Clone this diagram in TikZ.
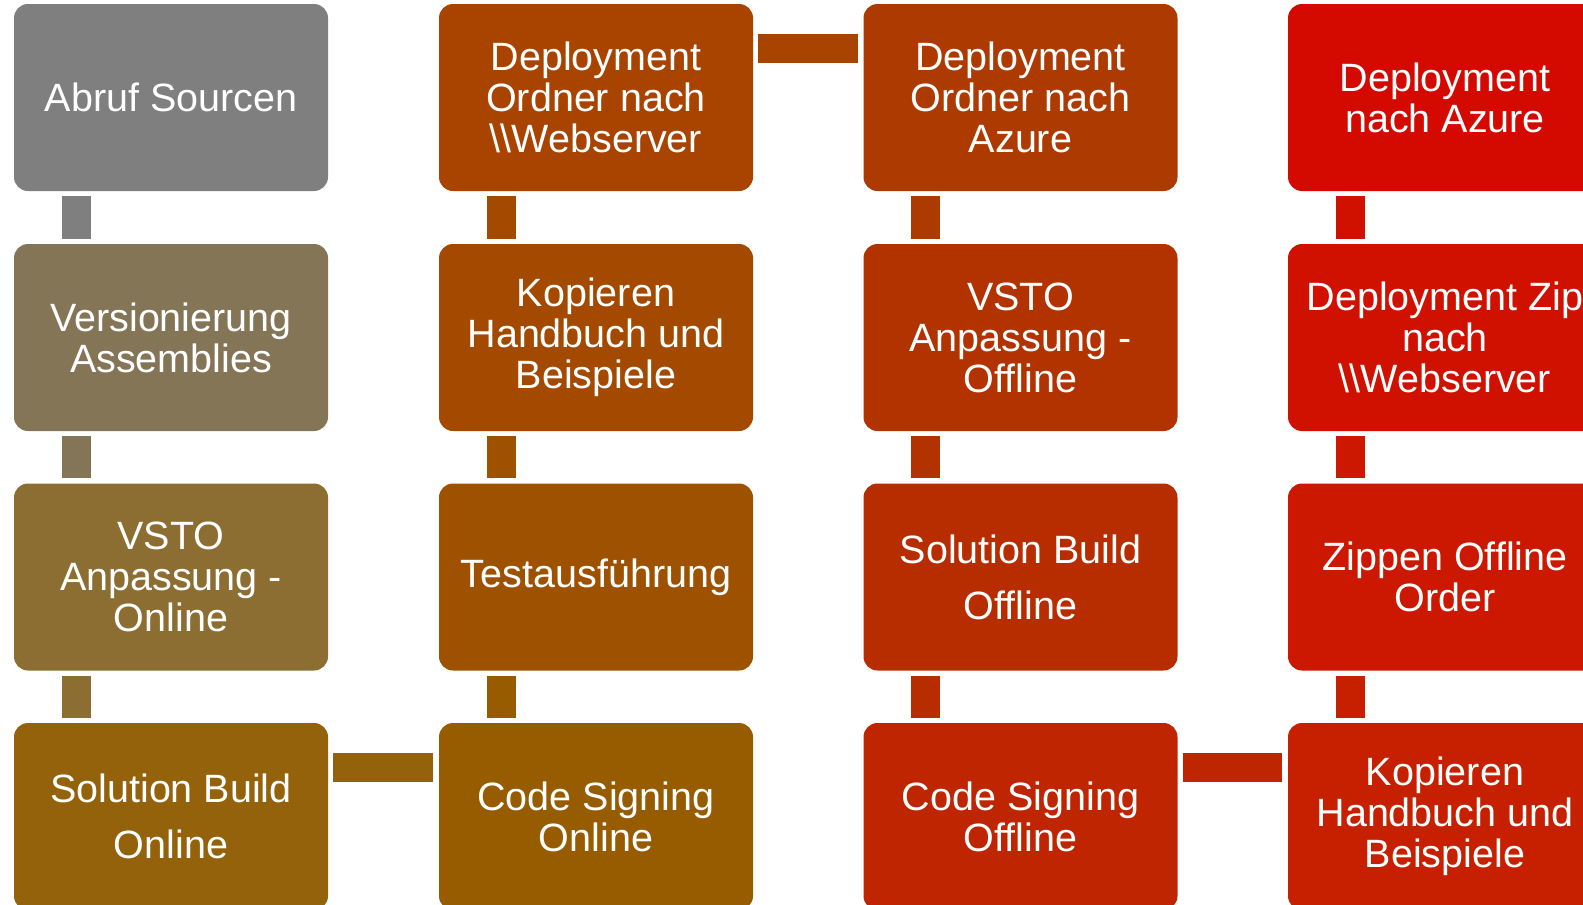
\documentclass[tikz,border=0pt]{standalone}
\usepackage{fontspec}
\setmainfont{Liberation Sans}
\definecolor{cAa}{HTML}{7F7F7F}
\definecolor{cAb}{HTML}{857557}
\definecolor{cAc}{HTML}{8C6E33}
\definecolor{cAd}{HTML}{94620A}
\definecolor{cBa}{HTML}{A84300}
\definecolor{cBb}{HTML}{A34A00}
\definecolor{cBc}{HTML}{9E5200}
\definecolor{cBd}{HTML}{975C00}
\definecolor{cCa}{HTML}{AD3A00}
\definecolor{cCb}{HTML}{B33300}
\definecolor{cCc}{HTML}{B82D00}
\definecolor{cCd}{HTML}{BF2500}
\definecolor{cDa}{HTML}{D40A00}
\definecolor{cDb}{HTML}{D01100}
\definecolor{cDc}{HTML}{CC1800}
\definecolor{cDd}{HTML}{C72000}
\newcommand{\bsl}{\textbackslash\textbackslash}
\begin{document}
\begin{tikzpicture}[x=1pt,y=1pt,
  box/.style={rectangle, rounded corners=14pt, minimum width=314pt, minimum height=187pt,
    inner sep=0pt, text=white, align=center, font=\fontsize{39.5}{41}\selectfont},
  widebox/.style={box, font=\fontsize{39.5}{56}\selectfont},
  vlink/.style={line width=29pt},
  hlink/.style={line width=28.5pt}]
\useasboundingbox (0,0) rectangle (1583,-905);
% column 1
\node[box, fill=cAa] (a1) at (171,-97.5) {Abruf Sourcen};
\node[box, fill=cAb] (a2) at (171,-337.5) {Versionierung\\Assemblies};
\node[box, fill=cAc] (a3) at (171,-577) {VSTO\\Anpassung -\\Online};
\node[widebox, fill=cAd] (a4) at (171,-816.5) {Solution Build\\Online};
% column 2
\node[box, fill=cBa] (b1) at (596,-97.5) {Deployment\\Ordner nach\\\bsl Webserver};
\node[box, fill=cBb] (b2) at (596,-337.5) {Kopieren\\Handbuch und\\Beispiele};
\node[box, fill=cBc] (b3) at (596,-577) {Testausführung};
\node[box, fill=cBd] (b4) at (596,-816.5) {Code Signing\\Online};
% column 3
\node[box, fill=cCa] (c1) at (1020.5,-97.5) {Deployment\\Ordner nach\\Azure};
\node[box, fill=cCb] (c2) at (1020.5,-337.5) {VSTO\\Anpassung -\\Offline};
\node[widebox, fill=cCc] (c3) at (1020.5,-577) {Solution Build\\Offline};
\node[box, fill=cCd] (c4) at (1020.5,-816.5) {Code Signing\\Offline};
% column 4
\node[box, fill=cDa] (d1) at (1445,-97.5) {Deployment\\nach Azure};
\node[box, fill=cDb] (d2) at (1445,-337.5) {Deployment Zip\\nach\\\bsl Webserver};
\node[box, fill=cDc] (d3) at (1445,-577) {Zippen Offline\\Order};
\node[box, fill=cDd] (d4) at (1445,-816.5) {Kopieren\\Handbuch und\\Beispiele};
% vertical links
\draw[vlink, cAa] ([shift={(62.5pt,-5pt)}]a1.south west) -- ([shift={(62.5pt,5pt)}]a2.north west);
\draw[vlink, cAb] ([shift={(62.5pt,-5pt)}]a2.south west) -- ([shift={(62.5pt,5pt)}]a3.north west);
\draw[vlink, cAc] ([shift={(62.5pt,-5pt)}]a3.south west) -- ([shift={(62.5pt,5pt)}]a4.north west);
\draw[vlink, cBd] ([shift={(62.5pt,5pt)}]b4.north west) -- ([shift={(62.5pt,-5pt)}]b3.south west);
\draw[vlink, cBc] ([shift={(62.5pt,5pt)}]b3.north west) -- ([shift={(62.5pt,-5pt)}]b2.south west);
\draw[vlink, cBb] ([shift={(62.5pt,5pt)}]b2.north west) -- ([shift={(62.5pt,-5pt)}]b1.south west);
\draw[vlink, cCa] ([shift={(62.5pt,-5pt)}]c1.south west) -- ([shift={(62.5pt,5pt)}]c2.north west);
\draw[vlink, cCb] ([shift={(62.5pt,-5pt)}]c2.south west) -- ([shift={(62.5pt,5pt)}]c3.north west);
\draw[vlink, cCc] ([shift={(62.5pt,-5pt)}]c3.south west) -- ([shift={(62.5pt,5pt)}]c4.north west);
\draw[vlink, cDd] ([shift={(62.5pt,5pt)}]d4.north west) -- ([shift={(62.5pt,-5pt)}]d3.south west);
\draw[vlink, cDc] ([shift={(62.5pt,5pt)}]d3.north west) -- ([shift={(62.5pt,-5pt)}]d2.south west);
\draw[vlink, cDb] ([shift={(62.5pt,5pt)}]d2.north west) -- ([shift={(62.5pt,-5pt)}]d1.south west);
% horizontal links
\draw[hlink, cAd] ([shift={(5pt,-44.5pt)}]a4.north east) -- ([shift={(-5.5pt,-44.5pt)}]b4.north west);
\draw[hlink, cBa] ([shift={(5pt,-44.5pt)}]b1.north east) -- ([shift={(-5.5pt,-44.5pt)}]c1.north west);
\draw[hlink, cCd] ([shift={(5pt,-44.5pt)}]c4.north east) -- ([shift={(-5.5pt,-44.5pt)}]d4.north west);
\end{tikzpicture}
\end{document}
